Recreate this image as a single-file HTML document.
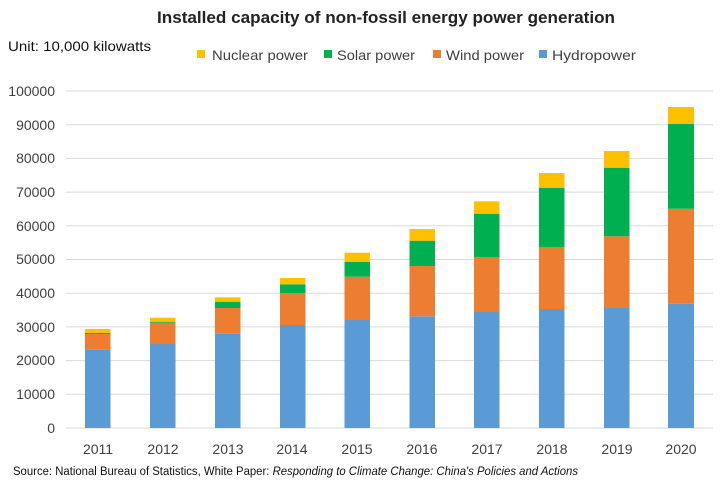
<!DOCTYPE html>
<html><head><meta charset="utf-8"><style>body{margin:0;background:#fff}svg{display:block}text{font-family:"Liberation Sans",sans-serif;fill:#404040}</style></head><body>
<svg width="720" height="480" viewBox="0 0 720 480">
<text x="386" y="23" text-anchor="middle" font-size="17" font-weight="bold" fill="#222" style="fill:#222" textLength="458" lengthAdjust="spacingAndGlyphs">Installed capacity of non-fossil energy power generation</text>
<text x="8" y="51" font-size="14" style="fill:#111" textLength="143" lengthAdjust="spacingAndGlyphs">Unit: 10,000 kilowatts</text>
<g font-size="14">
<rect x="197" y="50" width="8" height="8" fill="#FFC000"/><text x="212" y="60" textLength="96" lengthAdjust="spacingAndGlyphs">Nuclear power</text>
<rect x="324" y="50" width="8" height="8" fill="#00B050"/><text x="337" y="60" textLength="78" lengthAdjust="spacingAndGlyphs">Solar power</text>
<rect x="433" y="50" width="8" height="8" fill="#ED7D31"/><text x="446" y="60" textLength="78" lengthAdjust="spacingAndGlyphs">Wind power</text>
<rect x="539" y="50" width="8" height="8" fill="#5B9BD5"/><text x="552" y="60" textLength="84" lengthAdjust="spacingAndGlyphs">Hydropower</text>
</g>
<g stroke="#d9d9d9" stroke-width="1">
<line x1="66" x2="713" y1="91" y2="91"/><line x1="66" x2="713" y1="124.7" y2="124.7"/><line x1="66" x2="713" y1="158.4" y2="158.4"/><line x1="66" x2="713" y1="192.1" y2="192.1"/><line x1="66" x2="713" y1="225.8" y2="225.8"/><line x1="66" x2="713" y1="259.5" y2="259.5"/><line x1="66" x2="713" y1="293.2" y2="293.2"/><line x1="66" x2="713" y1="326.9" y2="326.9"/><line x1="66" x2="713" y1="360.6" y2="360.6"/><line x1="66" x2="713" y1="394.3" y2="394.3"/><line x1="66" x2="713" y1="428" y2="428"/>
</g>
<g font-size="14" text-anchor="end">
<text x="55" y="96">100000</text><text x="55" y="130">90000</text><text x="55" y="163">80000</text><text x="55" y="197">70000</text><text x="55" y="231">60000</text><text x="55" y="264">50000</text><text x="55" y="298">40000</text><text x="55" y="332">30000</text><text x="55" y="365">20000</text><text x="55" y="399">10000</text><text x="55" y="433">0</text>
</g>
<g id="bars"></g>
<g font-size="14" text-anchor="middle">
<text x="98" y="454">2011</text><text x="163" y="454">2012</text><text x="228" y="454">2013</text><text x="292" y="454">2014</text><text x="357" y="454">2015</text><text x="422" y="454">2016</text><text x="487" y="454">2017</text><text x="552" y="454">2018</text><text x="617" y="454">2019</text><text x="681" y="454">2020</text>
</g>
<text x="13" y="475" font-size="11.5" style="fill:#111" textLength="565" lengthAdjust="spacingAndGlyphs">Source: National Bureau of Statistics, White Paper: <tspan font-style="italic">Responding to Climate Change: China's Policies and Actions</tspan></text>
<g>
<!-- columns: x, hydroTop, windTop, solarTop, nucTop -->
<rect x="85" y="349.3" width="25.5" height="78.7" fill="#5B9BD5"/><rect x="85" y="334" width="25.5" height="15.3" fill="#ED7D31"/><rect x="85" y="333" width="25.5" height="1" fill="#00B050"/><rect x="85" y="329" width="25.5" height="4" fill="#FFC000"/>
<rect x="150" y="344" width="25.5" height="84" fill="#5B9BD5"/><rect x="150" y="322.7" width="25.5" height="21.3" fill="#ED7D31"/><rect x="150" y="321.7" width="25.5" height="1" fill="#00B050"/><rect x="150" y="317.7" width="25.5" height="4" fill="#FFC000"/>
<rect x="215" y="333.3" width="25.5" height="94.7" fill="#5B9BD5"/><rect x="215" y="308" width="25.5" height="25.3" fill="#ED7D31"/><rect x="215" y="301.7" width="25.5" height="6.3" fill="#00B050"/><rect x="215" y="297.3" width="25.5" height="4.4" fill="#FFC000"/>
<rect x="280" y="325" width="25.5" height="103" fill="#5B9BD5"/><rect x="280" y="293" width="25.5" height="32" fill="#ED7D31"/><rect x="280" y="284.3" width="25.5" height="8.7" fill="#00B050"/><rect x="280" y="278" width="25.5" height="6.3" fill="#FFC000"/>
<rect x="344.5" y="320" width="25.5" height="108" fill="#5B9BD5"/><rect x="344.5" y="276.7" width="25.5" height="43.3" fill="#ED7D31"/><rect x="344.5" y="262" width="25.5" height="14.7" fill="#00B050"/><rect x="344.5" y="252.7" width="25.5" height="9.3" fill="#FFC000"/>
<rect x="409.5" y="316.3" width="25.5" height="111.7" fill="#5B9BD5"/><rect x="409.5" y="266" width="25.5" height="50.3" fill="#ED7D31"/><rect x="409.5" y="240.7" width="25.5" height="25.3" fill="#00B050"/><rect x="409.5" y="229" width="25.5" height="11.7" fill="#FFC000"/>
<rect x="474" y="312" width="25.5" height="116" fill="#5B9BD5"/><rect x="474" y="257" width="25.5" height="55" fill="#ED7D31"/><rect x="474" y="213.7" width="25.5" height="43.3" fill="#00B050"/><rect x="474" y="201.3" width="25.5" height="12.4" fill="#FFC000"/>
<rect x="539" y="309" width="25.5" height="119" fill="#5B9BD5"/><rect x="539" y="247.3" width="25.5" height="61.7" fill="#ED7D31"/><rect x="539" y="188" width="25.5" height="59.3" fill="#00B050"/><rect x="539" y="173" width="25.5" height="15" fill="#FFC000"/>
<rect x="604" y="308" width="25.5" height="120" fill="#5B9BD5"/><rect x="604" y="236.3" width="25.5" height="71.7" fill="#ED7D31"/><rect x="604" y="167.7" width="25.5" height="68.6" fill="#00B050"/><rect x="604" y="151" width="25.5" height="16.7" fill="#FFC000"/>
<rect x="668" y="303.7" width="26" height="124.3" fill="#5B9BD5"/><rect x="668" y="208.7" width="26" height="95" fill="#ED7D31"/><rect x="668" y="124" width="26" height="84.7" fill="#00B050"/><rect x="668" y="107" width="26" height="17" fill="#FFC000"/>
</g>
</svg>
</body></html>
